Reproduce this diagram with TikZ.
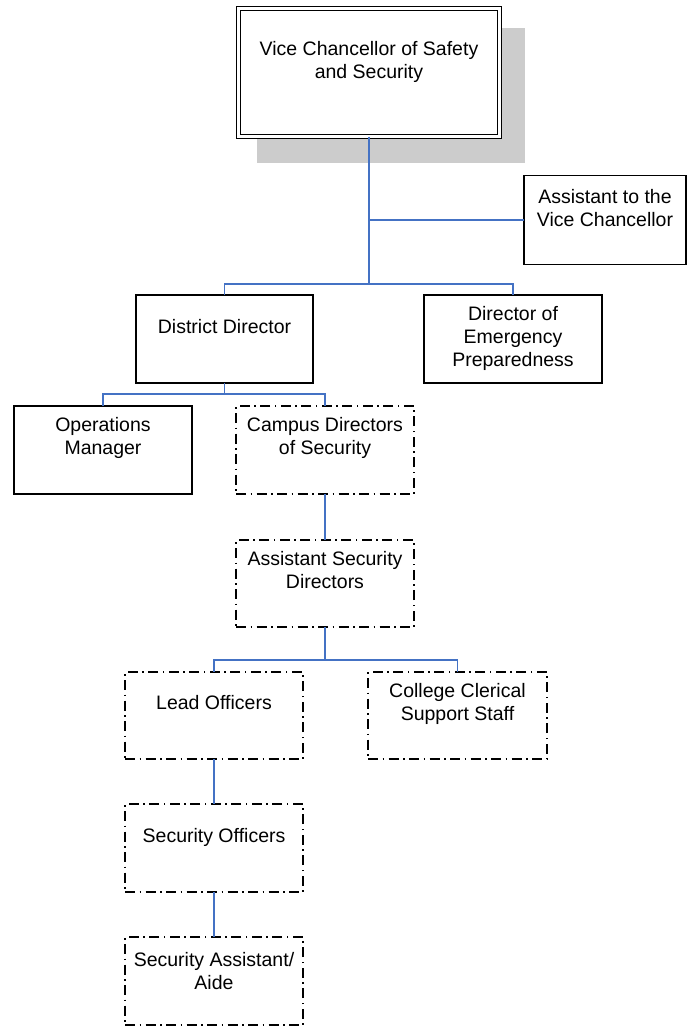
\documentclass[tikz,border=0pt]{standalone}
\usepackage{fontspec}
\setmainfont{Liberation Sans}
\usetikzlibrary{calc}
\definecolor{connblue}{RGB}{68,114,196}
\definecolor{shadowgray}{RGB}{204,204,204}
\tikzset{
  boxbase/.style={inner sep=0pt, outer sep=0pt, fill=white},
  solidbox/.style={boxbase, draw=black, line width=1.4pt},
  dashbox/.style={boxbase, draw=black, line width=1.4pt, dash pattern=on 10pt off 4.5pt on 1.5pt off 4.5pt},
  stdsize/.style={minimum width=178pt, minimum height=88pt},
  lbl/.style={align=center, inner sep=0pt, font=\fontsize{19.5}{23}\selectfont},
  conn/.style={draw=connblue, line width=1.4pt}
}
\begin{document}
\begin{tikzpicture}[x=1pt, y=-1pt]
\useasboundingbox (0,0) rectangle (687,1026);
% shadow of the top box
\fill[shadowgray] (257,28) rectangle (525,163);
% boxes
\node[solidbox, draw, double=white, double distance=3pt, line width=1.4pt, minimum width=261pt, minimum height=128pt] (vc) at (369,72.5) {};
\node[lbl] (vct) at (369,62) {Vice Chancellor of Safety\\and Security};

\node[solidbox, minimum width=162pt, minimum height=89pt] (asst) at (605,220) {};
\node[lbl] (asstt) at (605,208.5) {Assistant to the\\Vice Chancellor};

\node[solidbox, minimum width=177pt, minimum height=88pt] (dd) at (224.5,339) {};
\node[lbl] (ddt) at (224.5,327) {District Director};

\node[solidbox, stdsize] (dep) at (513,339) {};
\node[lbl] (dept) at (513,338.5) {Director of\\Emergency\\Preparedness};

\node[solidbox, stdsize] (om) at (103,450) {};
\node[lbl] (omt) at (103,437.5) {Operations\\Manager};

\node[dashbox, stdsize] (cds) at (325,450) {};
\node[lbl] (cdst) at (325,437.5) {Campus Directors\\of Security};

\node[dashbox, minimum width=178pt, minimum height=87pt] (asd) at (325,583.5) {};
\node[lbl] (asdt) at (325,570.5) {Assistant Security\\Directors};

\node[dashbox, minimum width=178pt, minimum height=87pt] (lo) at (214,715.5) {};
\node[lbl] (lot) at (214,703) {Lead Officers};

\node[dashbox, minimum width=179pt, minimum height=87pt] (ccs) at (457.5,715.5) {};
\node[lbl] (ccst) at (457.5,703.5) {College Clerical\\Support Staff};

\node[dashbox, stdsize] (so) at (214,848) {};
\node[lbl] (sot) at (214,837) {Security Officers};

\node[dashbox, stdsize] (sa) at (214,981) {};
\node[lbl] (sat) at (214,971.5) {Security Assistant/\\Aide};

% connectors
\coordinate (bus1) at (369,284);
\coordinate (bus2) at (214,394);
\coordinate (bus3) at (325,660);
\draw[conn] (vc.south) -- (bus1);
\draw[conn] (vc.south |- asst.west) -- (asst.west);
\draw[conn] (dd.north) -- (dd.north |- bus1) -- (dep.north |- bus1) -- (dep.north);
\draw[conn] (dd.south) -- (dd.south |- bus2);
\draw[conn] (om.north) -- (om.north |- bus2) -- (cds.north |- bus2) -- (cds.north);
\draw[conn] (cds.south) -- (asd.north);
\draw[conn] (asd.south) -- (bus3);
\draw[conn] (lo.north) -- (lo.north |- bus3) -- (ccs.north |- bus3) -- (ccs.north);
\draw[conn] (lo.south) -- (so.north);
\draw[conn] (so.south) -- (sa.north);
\end{tikzpicture}
\end{document}
